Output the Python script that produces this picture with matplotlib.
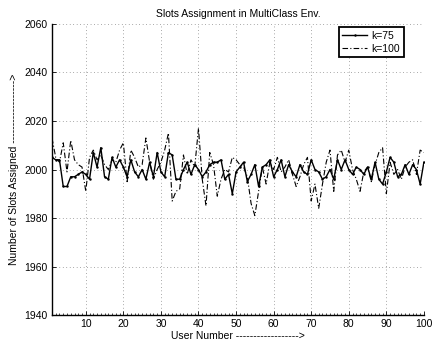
import matplotlib
matplotlib.use('Agg')

import matplotlib.pyplot as plt
import numpy as np

users = np.arange(1, 101)

k75 = [2005, 2004, 2004, 1993, 1993, 1997, 1997, 1998, 1999, 1998,
       1996, 2007, 2001, 2009, 1997, 1996, 2005, 2001, 2004, 2001,
       1997, 2004, 1999, 1997, 2000, 1996, 2003, 1997, 2007, 1999,
       1997, 2007, 2006, 1996, 1996, 2000, 2003, 1998, 2002, 2000,
       1997, 1999, 2002, 2003, 2003, 2004, 1996, 1998, 1990, 1999,
       2001, 2003, 1995, 1998, 2002, 1993, 2001, 2002, 2004, 1997,
       2000, 2004, 1997, 2002, 1999, 1997, 2002, 1999, 1998, 2004,
       2000, 1999, 1996, 1997, 2000, 1996, 2004, 2000, 2004, 2000,
       1998, 2001, 2000, 1998, 2001, 1996, 2003, 1996, 1994, 1999,
       2005, 2003, 1997, 1998, 2002, 1998, 2002, 2000, 1994, 2003]

k100 = [2013, 2005, 2003, 2011, 1999, 2012, 2004, 2002, 2001, 1991,
        2005, 2008, 2004, 2006, 2002, 2000, 2004, 2003, 2008, 2011,
        1995, 2008, 2005, 2001, 2002, 2013, 2003, 1996, 2000, 2003,
        2008, 2015, 1987, 1991, 1992, 2006, 1998, 2004, 2001, 2017,
        1996, 1985, 2007, 2002, 1989, 1996, 2000, 1999, 2005, 2004,
        2002, 2001, 1997, 1986, 1981, 1991, 2001, 1994, 2003, 2000,
        2005, 1999, 2001, 2004, 1998, 1993, 1997, 2002, 2005, 1987,
        1994, 1984, 1994, 2003, 2008, 1991, 2006, 2008, 2003, 2008,
        2000, 1996, 1991, 1999, 2001, 1995, 2002, 2007, 2009, 1990,
        2003, 1998, 2000, 1996, 2001, 2003, 2004, 1998, 2008, 2007]

xticks = [10, 20, 30, 40, 50, 60, 70, 80, 90, 100]
yticks = [1940, 1960, 1980, 2000, 2020, 2040, 2060]

plt.rcParams['font.family'] = ['Liberation Sans', 'DejaVu Sans']
plt.rcParams['font.size'] = 7.5

fig = plt.figure(figsize=(4.33, 3.47), dpi=100)
ax = fig.add_axes([0.120, 0.092, 0.859, 0.839])

ax.plot(users, k75, color='black', linewidth=1.0, marker='.', markersize=1.5, label='k=75')
ax.plot(users, k100, color='black', linewidth=0.8, linestyle=(0, (5, 2, 1, 2)), label='k=100')

ax.set_xlim(1, 100)
ax.set_ylim(1940, 2060)
ax.set_xticks(xticks)
ax.set_yticks(yticks)
ax.set_xticks(users, minor=True)
ax.tick_params(direction='in', length=3, width=0.6, pad=3)
ax.tick_params(which='minor', direction='in', length=1.5, width=0.5)

ax.grid(True, color='0.35', linestyle=(0, (1, 4)), linewidth=0.5)
ax.spines['top'].set_visible(False)
ax.spines['right'].set_visible(False)
ax.spines['left'].set_linewidth(1.0)
ax.spines['bottom'].set_linewidth(1.0)

ax.set_title('Slots Assignment in MultiClass Env.', fontsize=7.5, pad=5)
ax.set_xlabel('User Number ------------------>', labelpad=1)
ax.set_ylabel('Number of Slots Assigned ------------------>', labelpad=4)

leg = ax.legend(loc='upper right', bbox_to_anchor=(0.946, 0.99), fancybox=False,
                framealpha=1, edgecolor='black', fontsize=7.5, handlelength=2.4,
                borderaxespad=0, handletextpad=0.4, borderpad=0.35, labelspacing=0.3)
leg.get_frame().set_linewidth(1.3)

fig.savefig('out.png', dpi=100)
